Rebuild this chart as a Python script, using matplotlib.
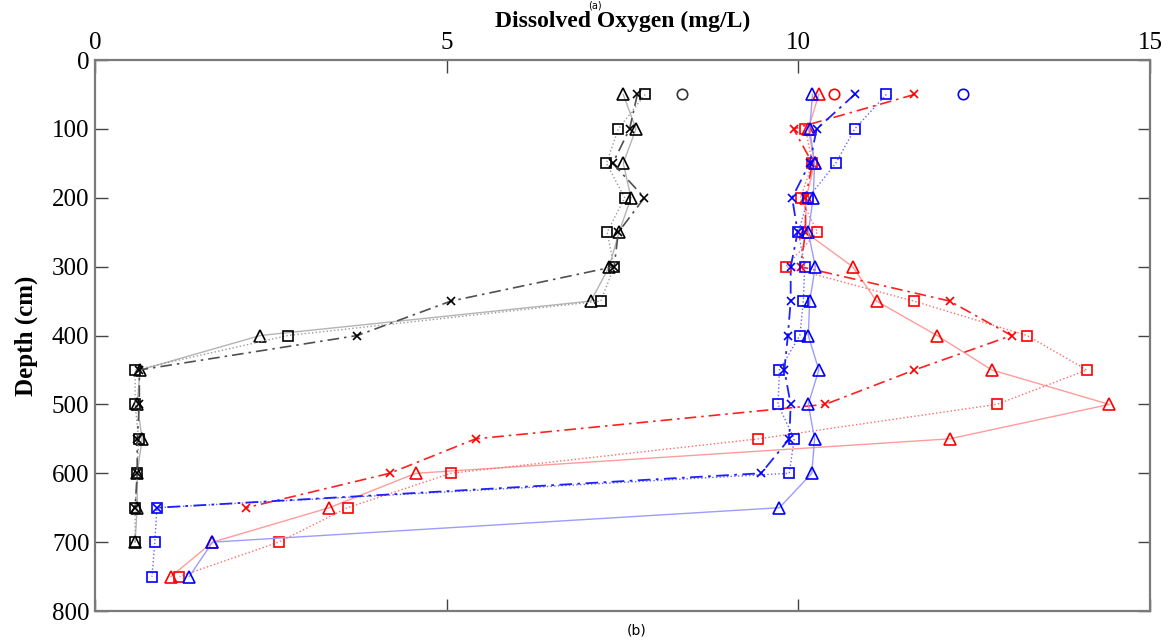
import numpy as np
import matplotlib
matplotlib.use('Agg')
import matplotlib.pyplot as plt

nan = np.nan
depth = [50, 100, 150, 200, 250, 300, 350, 400, 450, 500, 550, 600, 650, 700, 750]

# black / grey group
k_tri = [7.51, 7.69, 7.51, 7.62, 7.45, 7.31, 7.05, 2.35, 0.64, 0.60, 0.67, 0.60, 0.60, 0.57, nan]
k_sq = [7.82, 7.44, 7.27, 7.53, 7.28, 7.38, 7.19, 2.74, 0.57, 0.57, 0.62, 0.60, 0.57, 0.57, nan]
k_x = [7.71, 7.60, 7.36, 7.81, 7.44, 7.38, 5.06, 3.73, 0.63, 0.63, 0.60, 0.60, 0.57, nan, nan]
k_circ = 8.35

# red group
r_tri = [10.29, 10.14, 10.23, 10.11, 10.10, 10.77, 11.11, 11.97, 12.75, 14.42, 12.15, 4.56, 3.33, 1.67, 1.08]
r_sq = [nan, 10.10, 10.20, 10.03, 10.27, 9.82, 11.64, 13.25, 14.10, 12.82, 9.43, 5.06, 3.59, 2.61, 1.20]
r_x = [11.65, 9.93, 10.20, 10.10, 10.10, 10.03, 12.15, 13.03, 11.65, 10.38, 5.41, 4.19, 2.15, nan, nan]
r_circ = 10.51

# blue group
b_tri = [10.20, 10.16, 10.23, 10.21, 10.14, 10.24, 10.16, 10.14, 10.29, 10.14, 10.23, 10.19, 9.73, 1.67, 1.34]
b_sq = [11.25, 10.80, 10.53, 10.14, 10.00, 10.09, 10.07, 10.02, 9.73, 9.71, 9.94, 9.87, 0.88, 0.85, 0.81]
b_x = [10.80, 10.26, 10.16, 9.91, 9.99, 9.89, 9.89, 9.85, 9.80, 9.89, 9.87, 9.47, 0.88, nan, nan]
b_circ = 12.34

serif = 'Liberation Serif'
dashdot = (0, (7, 3, 1.5, 3))

fig = plt.figure(figsize=(11.76, 6.44), dpi=100)
ax = fig.add_axes([0.0808, 0.0512, 0.8972, 0.8556])

def series(vals, ls, lcol, mcol, marker, ms=8, lw=1.0):
    ax.plot(vals, depth, linestyle=ls, color=lcol, lw=lw)
    ax.plot(vals, depth, linestyle='none', marker=marker, ms=ms,
            mfc='none', mec=mcol, mew=1.2)

series(k_tri, '-', '#b4b4b4', 'black', '^', 8)
series(k_sq, ':', '#9a9a9a', 'black', 's', 7)
series(k_x, dashdot, '#505050', 'black', 'x', 6, 1.2)

series(r_tri, '-', '#ff9c9c', 'red', '^', 8)
series(r_sq, ':', '#ff6a6a', 'red', 's', 7)
series(r_x, dashdot, '#ff2020', 'red', 'x', 6, 1.2)

series(b_tri, '-', '#9c9cff', 'blue', '^', 8)
series(b_sq, ':', '#6464ff', 'blue', 's', 7)
series(b_x, dashdot, '#2020ff', 'blue', 'x', 6, 1.3)

for v, c in [(k_circ, '#333333'), (r_circ, 'red'), (b_circ, 'blue')]:
    ax.plot([v], [depth[0]], 'o', ms=7.5, mfc='none', mec=c, mew=1.2)

ax.set_xlim(0, 15)
ax.set_ylim(800, 0)
ax.set_xticks([0, 5, 10, 15])
ax.set_yticks(np.arange(0, 801, 100))
ax.xaxis.tick_top()
ax.xaxis.set_label_position('top')
ax.tick_params(direction='in', length=9, width=1.0, color='#444444',
               top=True, bottom=True, left=True, right=True,
               labelsize=18, pad=4)
for lab in ax.get_xticklabels() + ax.get_yticklabels():
    lab.set_fontfamily(serif)
for s in ax.spines.values():
    s.set_color('#7a7a7a')
    s.set_linewidth(1.6)

ax.set_xlabel('Dissolved Oxygen (mg/L)', fontfamily=serif, fontweight='bold',
              fontsize=17, labelpad=4)
ax.set_ylabel('Depth (cm)', fontfamily=serif, fontweight='bold',
              fontsize=18, labelpad=10)

fig.text(0.541, 0.0205, '(b)', ha='center', va='center', fontsize=10,
         fontfamily='DejaVu Sans')
fig.text(0.506, 0.999, '(a)', ha='center', va='top', fontsize=7,
         fontfamily='DejaVu Sans')

fig.savefig('out.png', dpi=100)
